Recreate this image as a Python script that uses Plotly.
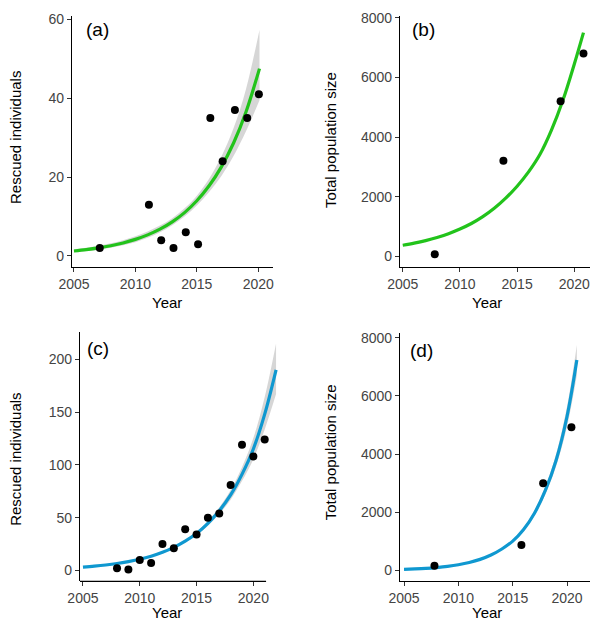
import plotly.graph_objects as go

W, H = 590, 621

# ---------------- data ----------------
# (a) rescued individuals, population 1
a_years = [2007.1, 2011.1, 2012.1, 2013.1, 2014.1, 2015.1, 2016.1, 2017.1, 2018.1, 2019.1, 2020.05]
a_vals = [2, 13, 4, 2, 6, 3, 35, 24, 37, 35, 41]
a_fit_x = [2005, 2006, 2007, 2008, 2009, 2010, 2011, 2012, 2013, 2014, 2015, 2016, 2017, 2018, 2019, 2020.1]
a_fit_y = [1.27, 1.61, 2.05, 2.61, 3.31, 4.21, 5.35, 6.80, 8.65, 11.0, 14.0, 17.8, 22.6, 28.7, 36.5, 47.5]
a_fit_hi = [1.7, 2.1, 2.6, 3.2, 4.0, 5.0, 6.2, 7.7, 9.6, 12.1, 15.3, 19.6, 25.2, 32.5, 42.3, 57.3]
a_fit_lo = [0.95, 1.25, 1.6, 2.1, 2.75, 3.5, 4.6, 6.0, 7.8, 10.0, 12.8, 16.2, 20.3, 25.4, 31.6, 39.5]

# (b) total population size, population 1
b_years = [2007.8, 2013.8, 2018.8, 2020.8]
b_vals = [70, 3200, 5200, 6800]
b_fit_x = [2005, 2006, 2007, 2008, 2009, 2010, 2011, 2012, 2013, 2014, 2015, 2016, 2017, 2018, 2019, 2020, 2020.8]
b_fit_y = [370, 440, 525, 630, 760, 915, 1100, 1330, 1610, 1950, 2350, 2830, 3420, 4230, 5230, 6450, 7500]

# (c) rescued individuals, population 2
c_years = [2008, 2009, 2010, 2011, 2012, 2013, 2014, 2015, 2016, 2017, 2018, 2019, 2020, 2021]
c_vals = [2, 1, 10, 7, 25, 21, 39, 34, 50, 54, 81, 119, 108, 124]
c_fit_x = [2005, 2006, 2007, 2008, 2009, 2010, 2011, 2012, 2013, 2014, 2015, 2016, 2017, 2018, 2019, 2020, 2021, 2022]
c_fit_y = [3.2, 4.1, 5.2, 6.6, 8.4, 10.6, 13.5, 17.2, 21.9, 27.8, 35.0, 44.5, 56.5, 71.5, 91, 115, 148, 190]
c_fit_hi = [3.65, 4.6, 5.7, 7.2, 9.0, 11.2, 14.2, 18.1, 22.9, 29.1, 36.6, 46.7, 59.6, 76.1, 97.8, 125.4, 164.3, 215]
c_fit_lo = [2.8, 3.65, 4.7, 6.05, 7.8, 10.0, 12.8, 16.3, 20.9, 26.6, 33.4, 42.3, 53.4, 67.0, 84.6, 105.3, 133.5, 167]

# (d) total population size, population 2
d_years = [2007.8, 2015.8, 2017.8, 2020.4]
d_vals = [160, 880, 3000, 4920]
d_fit_x = [2005, 2006, 2007, 2008, 2009, 2010, 2011, 2012, 2013, 2014, 2015, 2016, 2017, 2018, 2019, 2020, 2020.9]
d_fit_y = [38, 53, 73, 102, 142, 198, 275, 383, 532, 740, 1010, 1410, 1970, 2750, 3800, 5300, 7230]
d_fit_hi = [42.6, 58.8, 80.3, 111.2, 153.4, 211.9, 291.5, 404, 558.6, 773.3, 1050, 1466, 2059, 2888, 4009, 5645, 7750]
d_fit_lo = [33.4, 47.2, 65.7, 92.8, 130.6, 184.1, 258.5, 362, 505.4, 706.7, 970, 1354, 1881, 2612, 3591, 4955, 6710]

x_ticks = [2005, 2010, 2015, 2020]
a_yticks = [0, 20, 40, 60]
pop_yticks = [0, 2000, 4000, 6000, 8000]
c_yticks = [0, 50, 100, 150, 200]

panel_labels = ["(a)", "(b)", "(c)", "(d)"]
x_title = "Year"
y_titles = ["Rescued individuals", "Total population size", "Rescued individuals", "Total population size"]

GREEN = "#22C31B"
BLUE = "#0F98D0"
RIBBON = "rgba(153,153,153,0.4)"
FONT = "Liberation Sans, Arial, sans-serif"

fig = go.Figure()


def add_panel(xa, ya, px, py, fx, fy, color, lo=None, hi=None):
    if lo is not None:
        fig.add_trace(go.Scatter(x=fx, y=hi, mode="lines", line=dict(width=0, shape="spline"),
                                 xaxis=xa, yaxis=ya, showlegend=False, hoverinfo="skip"))
        fig.add_trace(go.Scatter(x=fx, y=lo, mode="lines", line=dict(width=0, shape="spline"),
                                 fill="tonexty", fillcolor=RIBBON,
                                 xaxis=xa, yaxis=ya, showlegend=False, hoverinfo="skip"))
    fig.add_trace(go.Scatter(x=fx, y=fy, mode="lines", line=dict(color=color, width=3.2, shape="spline"),
                             xaxis=xa, yaxis=ya, showlegend=False))
    fig.add_trace(go.Scatter(x=px, y=py, mode="markers", marker=dict(color="black", size=8),
                             xaxis=xa, yaxis=ya, showlegend=False))


add_panel("x", "y", a_years, a_vals, a_fit_x, a_fit_y, GREEN, a_fit_lo, a_fit_hi)
add_panel("x2", "y2", b_years, b_vals, b_fit_x, b_fit_y, GREEN)
add_panel("x3", "y3", c_years, c_vals, c_fit_x, c_fit_y, BLUE, c_fit_lo, c_fit_hi)
add_panel("x4", "y4", d_years, d_vals, d_fit_x, d_fit_y, BLUE, d_fit_lo, d_fit_hi)


def px2x(p):
    return p / W


def px2y(p):
    return 1 - p / H


common = dict(showgrid=False, zeroline=False, showline=True, linecolor="black", linewidth=1.3,
              ticks="outside", ticklen=4, tickwidth=1, tickcolor="#333333",
              tickfont=dict(family=FONT, size=14, color="#444444"), automargin=False, fixedrange=True,
              ticklabeloverflow="allow")

top_y = [px2y(267), px2y(16)]
bot_y = [px2y(580.7), px2y(331.7)]
bot_y_d = [px2y(580.7), px2y(333.3)]

fig.update_layout(
    width=W, height=H, margin=dict(l=0, r=0, t=0, b=0),
    paper_bgcolor="white", plot_bgcolor="white",
    font=dict(family=FONT),
    xaxis=dict(domain=[px2x(72), px2x(273)], range=[2004.84, 2021.2], tickvals=x_ticks, anchor="y", **common),
    yaxis=dict(domain=top_y, range=[-2.79, 60.84], tickvals=a_yticks, anchor="x", **common),
    xaxis2=dict(domain=[px2x(400), 1.0], range=[2004.76, 2021.37], tickvals=x_ticks, anchor="y2", **common),
    yaxis2=dict(domain=top_y, range=[-359, 8057], tickvals=pop_yticks, anchor="x2", **common),
    xaxis3=dict(domain=[px2x(80), px2x(285)], range=[2004.74, 2022.786], tickvals=x_ticks, anchor="y3",
                **{**common, "showline": False}),
    yaxis3=dict(domain=bot_y, range=[-9.7, 226.1], tickvals=c_yticks, anchor="x3", **common),
    xaxis4=dict(domain=[px2x(400), 1.0], range=[2004.63, 2022.11], tickvals=x_ticks, anchor="y4", **common),
    yaxis4=dict(domain=bot_y_d, range=[-350, 8151], tickvals=pop_yticks, anchor="x4", **common),
)

# shorter x-axis line for panel (c) (curve runs past the axis line end)
fig.add_shape(type="line", xref="x3", yref="paper", x0=2004.74, x1=2021.12,
              y0=px2y(581.35), y1=px2y(581.35), line=dict(color="black", width=1.3))

# panel letters
for lab, (lx, ly) in zip(panel_labels, [(84, 29.7), (410, 29.7), (85, 348.8), (408, 350.8)]):
    fig.add_annotation(text=lab, x=px2x(lx), y=px2y(ly), xref="paper", yref="paper",
                       xanchor="left", yanchor="middle", showarrow=False,
                       font=dict(family=FONT, size=19, color="black"))

# x-axis titles
for (tx, ty) in [(167, 303), (486.5, 303), (167, 612.7), (486.5, 612.7)]:
    fig.add_annotation(text=x_title, x=px2x(tx), y=px2y(ty), xref="paper", yref="paper",
                       xanchor="center", yanchor="middle", showarrow=False,
                       font=dict(family=FONT, size=15, color="black"))

# y-axis titles
for lab, (tx, ty) in zip(y_titles, [(15, 138), (330, 140), (15.8, 459), (330.8, 452.5)]):
    fig.add_annotation(text=lab, x=px2x(tx), y=px2y(ty), xref="paper", yref="paper",
                       xanchor="center", yanchor="middle", showarrow=False, textangle=-90,
                       font=dict(family=FONT, size=15, color="black"))

fig.write_html("out.html", config={"displayModeBar": False},
               post_script="document.body.style.margin='0';document.body.style.overflow='hidden';")
